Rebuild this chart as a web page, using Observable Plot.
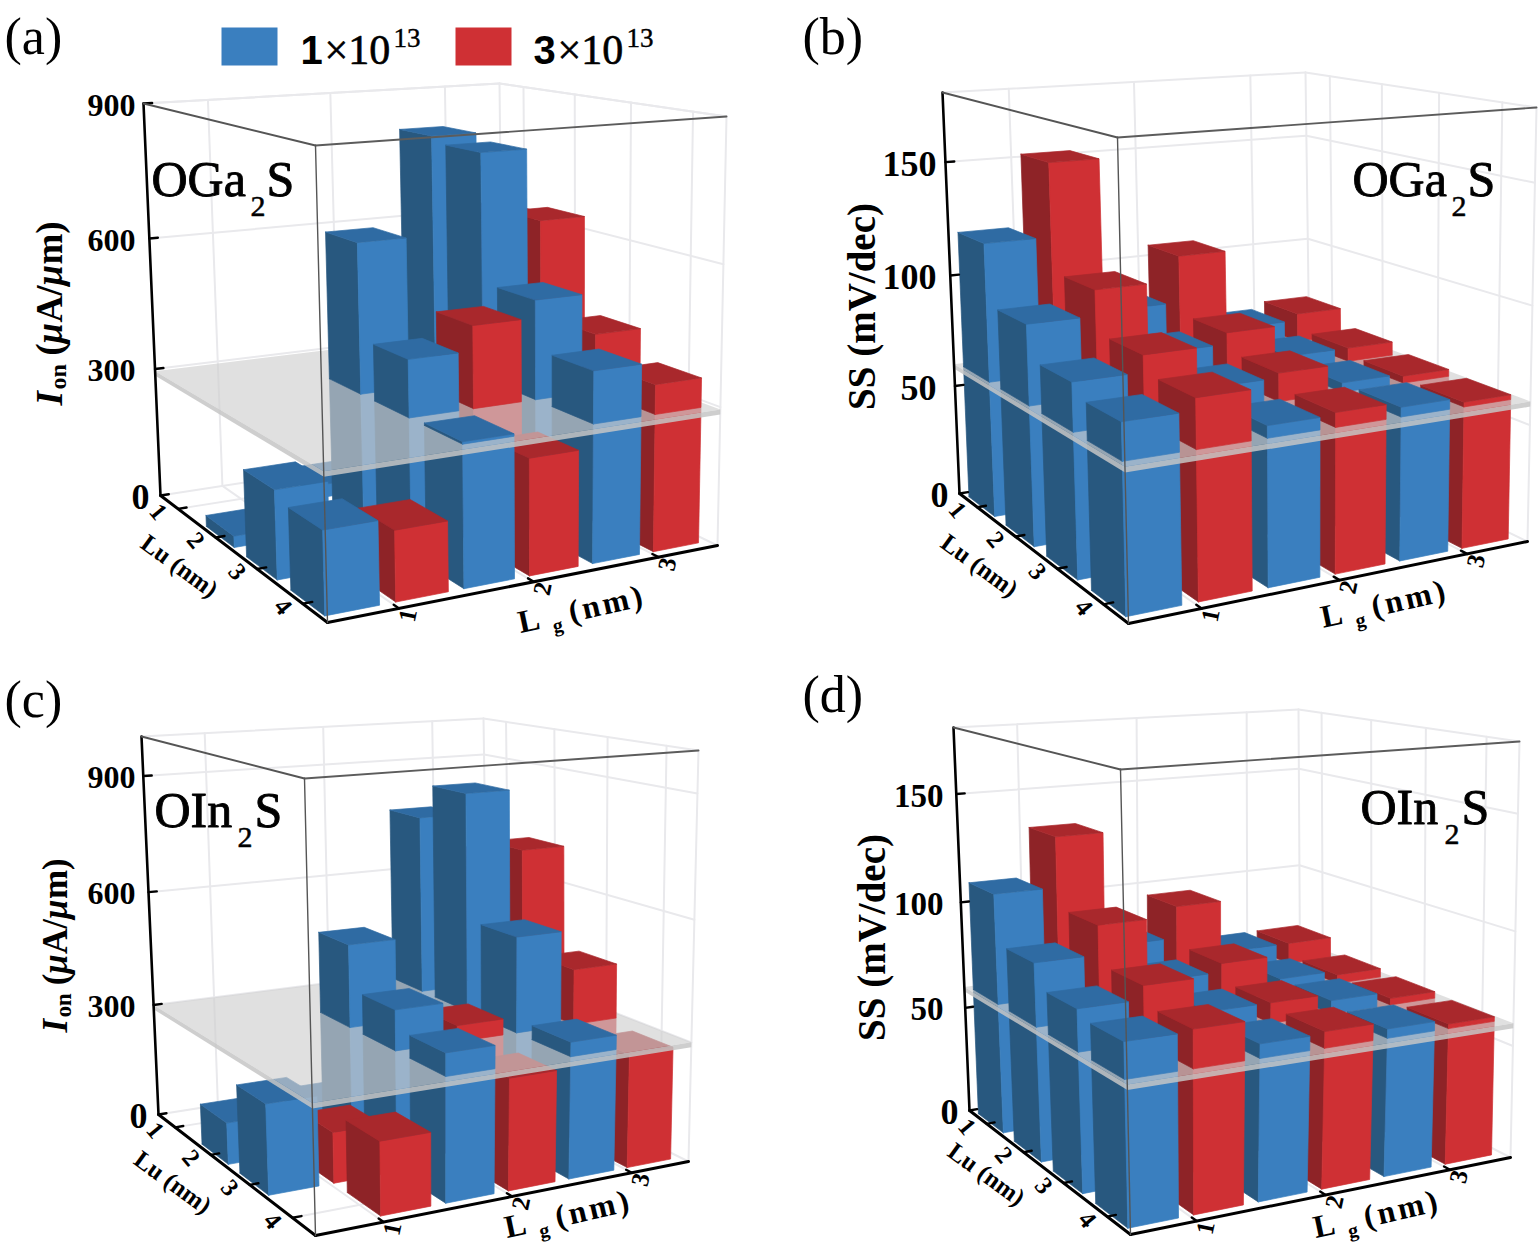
<!DOCTYPE html>
<html><head><meta charset="utf-8">
<script src="https://cdn.jsdelivr.net/npm/d3@7"></script>
<script src="https://cdn.jsdelivr.net/npm/@observablehq/plot@0.6"></script>
<style>html,body{margin:0;padding:0;background:#fff}svg{display:block}.wide{letter-spacing:3px}</style>
</head><body><div id="chart"></div>
<script>
const lgTicks = [1, 2, 3];
const luTicks = [1, 2, 3, 4];

// values indexed [Lg][Lu]
const ionOGaLow  = [[0, 25, 188, 170], [30, 625, 418, 300], [810, 796, 510, 405]];
const ionOGaHigh = [[0, 0, 30, 145], [100, 200, 472, 245], [620, 635, 420, 358]];
const ssOGaLow   = [[120, 94, 80, 75], [85, 75, 70, 65], [70, 66, 64, 64]];
const ssOGaHigh  = [[152, 105, 87, 80], [106, 80, 72, 66], [73, 66, 63, 62]];
const ionOInLow  = [[0, 105, 220, 0], [30, 510, 400, 355], [770, 862, 540, 335]];
const ionOInHigh = [[0, 0, 125, 175], [100, 200, 340, 272], [650, 705, 440, 283]];
const ssOInLow   = [[110, 88, 78, 75], [80, 73, 69, 66], [70, 66, 66, 64]];
const ssOInHigh  = [[133, 101, 84, 76], [95, 77, 69, 67], [70, 64, 63, 62]];

const ionTicks = [0, 300, 600, 900];
const ssTicks = [0, 50, 100, 150];

const palette = {
  low:  {front: "#3a7fbf", side: "#28587f", top: "#2f6ba3"},
  high: {front: "#cf3034", side: "#8e2327", top: "#a9282c"}
};

// camera calibration of each panel's box (floor and ceiling corners)
const panels = [
 {letter:"(a)", lx:4, ly:53, low:ionOGaLow, high:ionOGaHigh, ticks:ionTicks, zMax:900, plane:295,
  floor:[[160,495],[503,442],[717,545],[327,622]], ceil:[[143,103],[499,83],[726,116],[315,145]],
  name:["OGa","S"], nx:[151,250,266], ny:195, title:"ion", tx:50, ty:405, tfs:37, zfs:32, zr:135, lgOff:[0,-3], luOff:0},
 {letter:"(b)", lx:802, ly:53, low:ssOGaLow, high:ssOGaHigh, ticks:ssTicks, zMax:180, plane:60,
  floor:[[959,493],[1310,436],[1527,541],[1128,623]], ceil:[[942,92],[1305,72],[1536,107],[1117,137]],
  name:["OGa","S"], nx:[1352,1451,1467], ny:195, title:"ss", tx:862, ty:306, tfs:39, zfs:36, zr:936, lgOff:[-4,-6], luOff:0},
 {letter:"(c)", lx:4, ly:716, low:ionOInLow, high:ionOInHigh, ticks:ionTicks, zMax:1000, plane:300,
  floor:[[158,1114],[488,1062],[688,1161],[315,1235]], ceil:[[141,736],[483,718],[698,750],[304,778]],
  name:["OIn","S"], nx:[154,237,254], ny:826, title:"ion", tx:55, ty:1032, tfs:35, zfs:32, zr:135, lgOff:[10,-13], luOff:0},
 {letter:"(d)", lx:802, ly:711, low:ssOInLow, high:ssOInHigh, ticks:ssTicks, zMax:180, plane:60,
  floor:[[969,1110],[1300,1050],[1510,1157],[1130,1234]], ceil:[[953,727],[1298,709],[1519,741],[1120,769]],
  name:["OIn","S"], nx:[1360,1444,1461], ny:823, title:"ss", tx:872, ty:937, tfs:39, zfs:33, zr:943, lgOff:[4,-11], luOff:-6}
];

function homography([p0,p1,p2,p3]) {
  const dx1=p1[0]-p2[0], dx2=p3[0]-p2[0], sx=p0[0]-p1[0]+p2[0]-p3[0];
  const dy1=p1[1]-p2[1], dy2=p3[1]-p2[1], sy=p0[1]-p1[1]+p2[1]-p3[1];
  const den=dx1*dy2-dx2*dy1;
  const g=(sx*dy2-dx2*sy)/den, h=(dx1*sy-sx*dy1)/den;
  const a=p1[0]-p0[0]+g*p1[0], b=p3[0]-p0[0]+h*p3[0], c=p0[0];
  const d=p1[1]-p0[1]+g*p1[1], e=p3[1]-p0[1]+h*p3[1], f=p0[1];
  return (u,v)=>{const q=g*u+h*v+1; return [(a*u+b*v+c)/q,(d*u+e*v+f)/q];};
}
const depth = w => w/(w+(1-w)*1.05);
function projector(p){
  const fl=homography(p.floor), ce=homography(p.ceil);
  return (u,v,z)=>{const t=depth(z/p.zMax), A=fl(u,v), B=ce(u,v);
    return [A[0]+(B[0]-A[0])*t, A[1]+(B[1]-A[1])*t];};
}

let pid=0;
function poly(target, pts, fill, stroke){
  const id=pid++;
  for(const q of [...pts, pts[0]]) target.push({id, x:q[0], y:q[1], fill, stroke:stroke||fill});
}
function seg(target, a, b, stroke, width){
  const id=pid++;
  target.push({id,x:a[0],y:a[1],stroke,width},{id,x:b[0],y:b[1],stroke,width});
}

const BARW=.128, UOFF=.011, DEPTH=.088, GREY="#e9e9ec";
const layers = [];
for(const p of panels){
  const P=projector(p);
  const gridRows=[], frameRows=[], lower=[], upper=[], plane=[], strip=[];
  const back=(a,b)=>seg(gridRows,a,b,GREY,2);
  const uT=[1/6,1/2,5/6], vT=luTicks.map(l=>(l-.5)/4);
  for(const z of p.ticks){ back(P(0,0,z),P(1,0,z)); back(P(1,0,z),P(1,1,z)); }
  for(const u of uT){ back(P(u,0,0),P(u,0,p.zMax)); back(P(u,0,0),P(u,1,0)); }
  for(const v of vT){ back(P(1,v,0),P(1,v,p.zMax)); back(P(0,v,0),P(1,v,0)); }
  back(P(0,0,p.zMax),P(1,0,p.zMax)); back(P(1,0,p.zMax),P(1,1,p.zMax));
  back(P(1,0,0),P(1,0,p.zMax)); back(P(1,1,0),P(1,1,p.zMax));

  const box=(seq,u0,u1,v0,v1,z0,z1,cols,capped)=>{
    poly(seq,[P(u0,v0,z0),P(u0,v1,z0),P(u0,v1,z1),P(u0,v0,z1)],cols.side);
    poly(seq,[P(u0,v1,z0),P(u1,v1,z0),P(u1,v1,z1),P(u0,v1,z1)],cols.front);
    if(capped) poly(seq,[P(u0,v0,z1),P(u1,v0,z1),P(u1,v1,z1),P(u0,v1,z1)],cols.top);
  };
  for(let r=0;r<4;r++){
    for(let s=5;s>=0;s--){
      const lgI=Math.floor(s/2), kind=s%2?"high":"low";
      const val=p[kind][lgI][r];
      if(val<=0) continue;
      const u0=s/6+UOFF,u1=u0+BARW,c=(r+.5)/4,v0=c-DEPTH,v1=c+DEPTH,cols=palette[kind];
      if(val<=p.plane) box(lower,u0,u1,v0,v1,0,val,cols,true);
      else { box(lower,u0,u1,v0,v1,0,p.plane,cols,false); box(upper,u0,u1,v0,v1,p.plane,val,cols,true); }
    }
  }
  const pz=p.plane, th=p.zMax*.012;
  poly(plane,[P(0,0,pz),P(1,0,pz),P(1,1,pz),P(0,1,pz)],"#cfcfcf","none");
  poly(strip,[P(0,0,pz),P(0,1,pz),P(0,1,pz-th),P(0,0,pz-th)],"#c6c6c6","none");
  poly(strip,[P(0,1,pz),P(1,1,pz),P(1,1,pz-th),P(0,1,pz-th)],"#c6c6c6","none");

  for(const z of p.ticks) seg(frameRows,P(0,0,z),P(.022,0,z),"#000",2.4);
  for(const u of uT) seg(frameRows,P(u,1,0),P(u,.975,0),"#000",2.4);
  for(const v of vT) seg(frameRows,P(0,v,0),P(.022,v,0),"#000",2.4);
  seg(frameRows,P(0,0,0),P(0,0,p.zMax),"#000",2.6);
  seg(frameRows,P(0,0,0),P(0,1,0),"#000",3);
  seg(frameRows,P(0,1,0),P(1,1,0),"#000",3);
  seg(frameRows,P(0,0,p.zMax),P(0,1,p.zMax),"#555",1.9);
  seg(frameRows,P(0,1,p.zMax),P(1,1,p.zMax),"#5c5c5c",1.9);
  seg(frameRows,P(0,1,0),P(0,1,p.zMax),"#555",1.4);
  layers.push({p,P,gridRows,frameRows,lower,upper,plane,strip,uT,vT});
}

const fillLine=(rows,extra={})=>Plot.line(rows,{x:"x",y:"y",z:"id",fill:"fill",stroke:"stroke",strokeWidth:.7,...extra});
const strokeLine=rows=>Plot.line(rows,{x:"x",y:"y",z:"id",stroke:"stroke",strokeWidth:"width",strokeLinecap:"round"});
const SERIF="Liberation Serif";
const T=(t,x,y,o={})=>Plot.text([{x,y,t}],{x:"x",y:"y",text:"t",fontFamily:SERIF,lineAnchor:"middle",textAnchor:"middle",fill:"#000",...o});

const marks=[];
for(const L of layers){
  const {p,P}=L;
  marks.push(strokeLine(L.gridRows));
  marks.push(fillLine(L.lower));
  marks.push(fillLine(L.plane,{fillOpacity:.65}));
  marks.push(fillLine(L.strip,{fillOpacity:.85}));
  marks.push(fillLine(L.upper));
  marks.push(strokeLine(L.frameRows));
  marks.push(T(p.letter,p.lx,p.ly,{fontSize:52,textAnchor:"start",lineAnchor:"bottom"}));
  // compound name
  const nameStyle={textAnchor:"start",lineAnchor:"bottom",stroke:"#000",strokeWidth:.9};
  marks.push(T(p.name[0],p.nx[0],p.ny,{fontSize:50,...nameStyle}));
  marks.push(T("2",p.nx[1],p.ny+20,{fontSize:30,...nameStyle,strokeWidth:.5}));
  marks.push(T(p.name[1],p.nx[2],p.ny,{fontSize:50,...nameStyle}));
  // z tick labels
  for(const z of p.ticks){ const q=P(0,0,z);
    marks.push(T(String(z),z===0?q[0]-11:p.zr,q[1]+2,{fontSize:z===0?36:p.zfs,fontWeight:"bold",textAnchor:"end"})); }
  // Lg labels and title
  L.uT.forEach((u,i)=>{const q=P(u,1,0);
    marks.push(T(String(lgTicks[i]),q[0]+9,q[1]+7,{fontSize:25,fontWeight:"bold",rotate:-78})); });
  const mid=P(.62,1,0), [gx,gy]=p.lgOff;
  marks.push(T("L",mid[0]-51+gx,mid[1]+51+gy,{fontSize:32,fontWeight:"bold",rotate:-12}));
  marks.push(T("g",mid[0]-22+gx,mid[1]+56+gy,{fontSize:20,fontWeight:"bold",rotate:-12}));
  marks.push(T("(nm)",mid[0]+27+gx,mid[1]+34+gy,{fontSize:32,fontWeight:"bold",rotate:-13,className:"wide"}));
  // Lu labels and title
  L.vT.forEach((v,i)=>{const q=P(0,v,0);
    marks.push(T(String(luTicks[i]),q[0]-20,q[1]+3,{fontSize:25,fontWeight:"bold",rotate:50})); });
  const lm=P(0,.55,0);
  marks.push(T("Lu (nm)",lm[0]-65,lm[1]+7+p.luOff,{fontSize:25,fontWeight:"bold",rotate:36}));
  // y title
  const fs=p.tfs, k=fs/37, up=(piece,off,o={})=>marks.push(T(piece,p.tx,p.ty-off*k,{fontSize:fs,fontWeight:"bold",rotate:-90,textAnchor:"start",...o}));
  if(p.title==="ion"){
    up("I",0,{fontStyle:"italic"});
    marks.push(T("on",p.tx+8,p.ty-16*k,{fontSize:24*k,fontWeight:"bold",rotate:-90,textAnchor:"start"}));
    up("(",50);
    up("μ",62,{fontStyle:"italic"});
    up("A/",83);
    up("μ",120,{fontStyle:"italic"});
    up("m)",141);
  } else {
    marks.push(T("SS (mV/dec)",p.tx,p.ty,{fontSize:fs,fontWeight:"bold",rotate:-90}));
  }
}
// legend
const legendRect=(x1,x2,fill)=>Plot.rect([{x1,x2,y1:28,y2:65}],{x1:"x1",x2:"x2",y1:"y1",y2:"y2",fill:()=>fill,stroke:()=>fill});
marks.push(legendRect(222,277,palette.low.front));
marks.push(legendRect(456,511,palette.high.front));
[["1",300],["3",533]].forEach(([d,x])=>{
  marks.push(T(d,x,63,{fontSize:40,fontWeight:"bold",fontFamily:"Liberation Sans",textAnchor:"start",lineAnchor:"bottom"}));
  marks.push(T("×10",x+24,63,{fontSize:42,textAnchor:"start",lineAnchor:"bottom",stroke:"#000",strokeWidth:.6}));
  marks.push(T("13",x+93,46,{fontSize:27,textAnchor:"start",lineAnchor:"bottom",stroke:"#000",strokeWidth:.4}));
});

const chart=Plot.plot({width:1538,height:1246,margin:0,
  x:{domain:[0,1538],range:[0,1538],axis:null},
  y:{domain:[0,1246],range:[0,1246],axis:null},
  color:{type:"identity"},marks});
document.getElementById("chart").append(chart);
</script></body></html>
